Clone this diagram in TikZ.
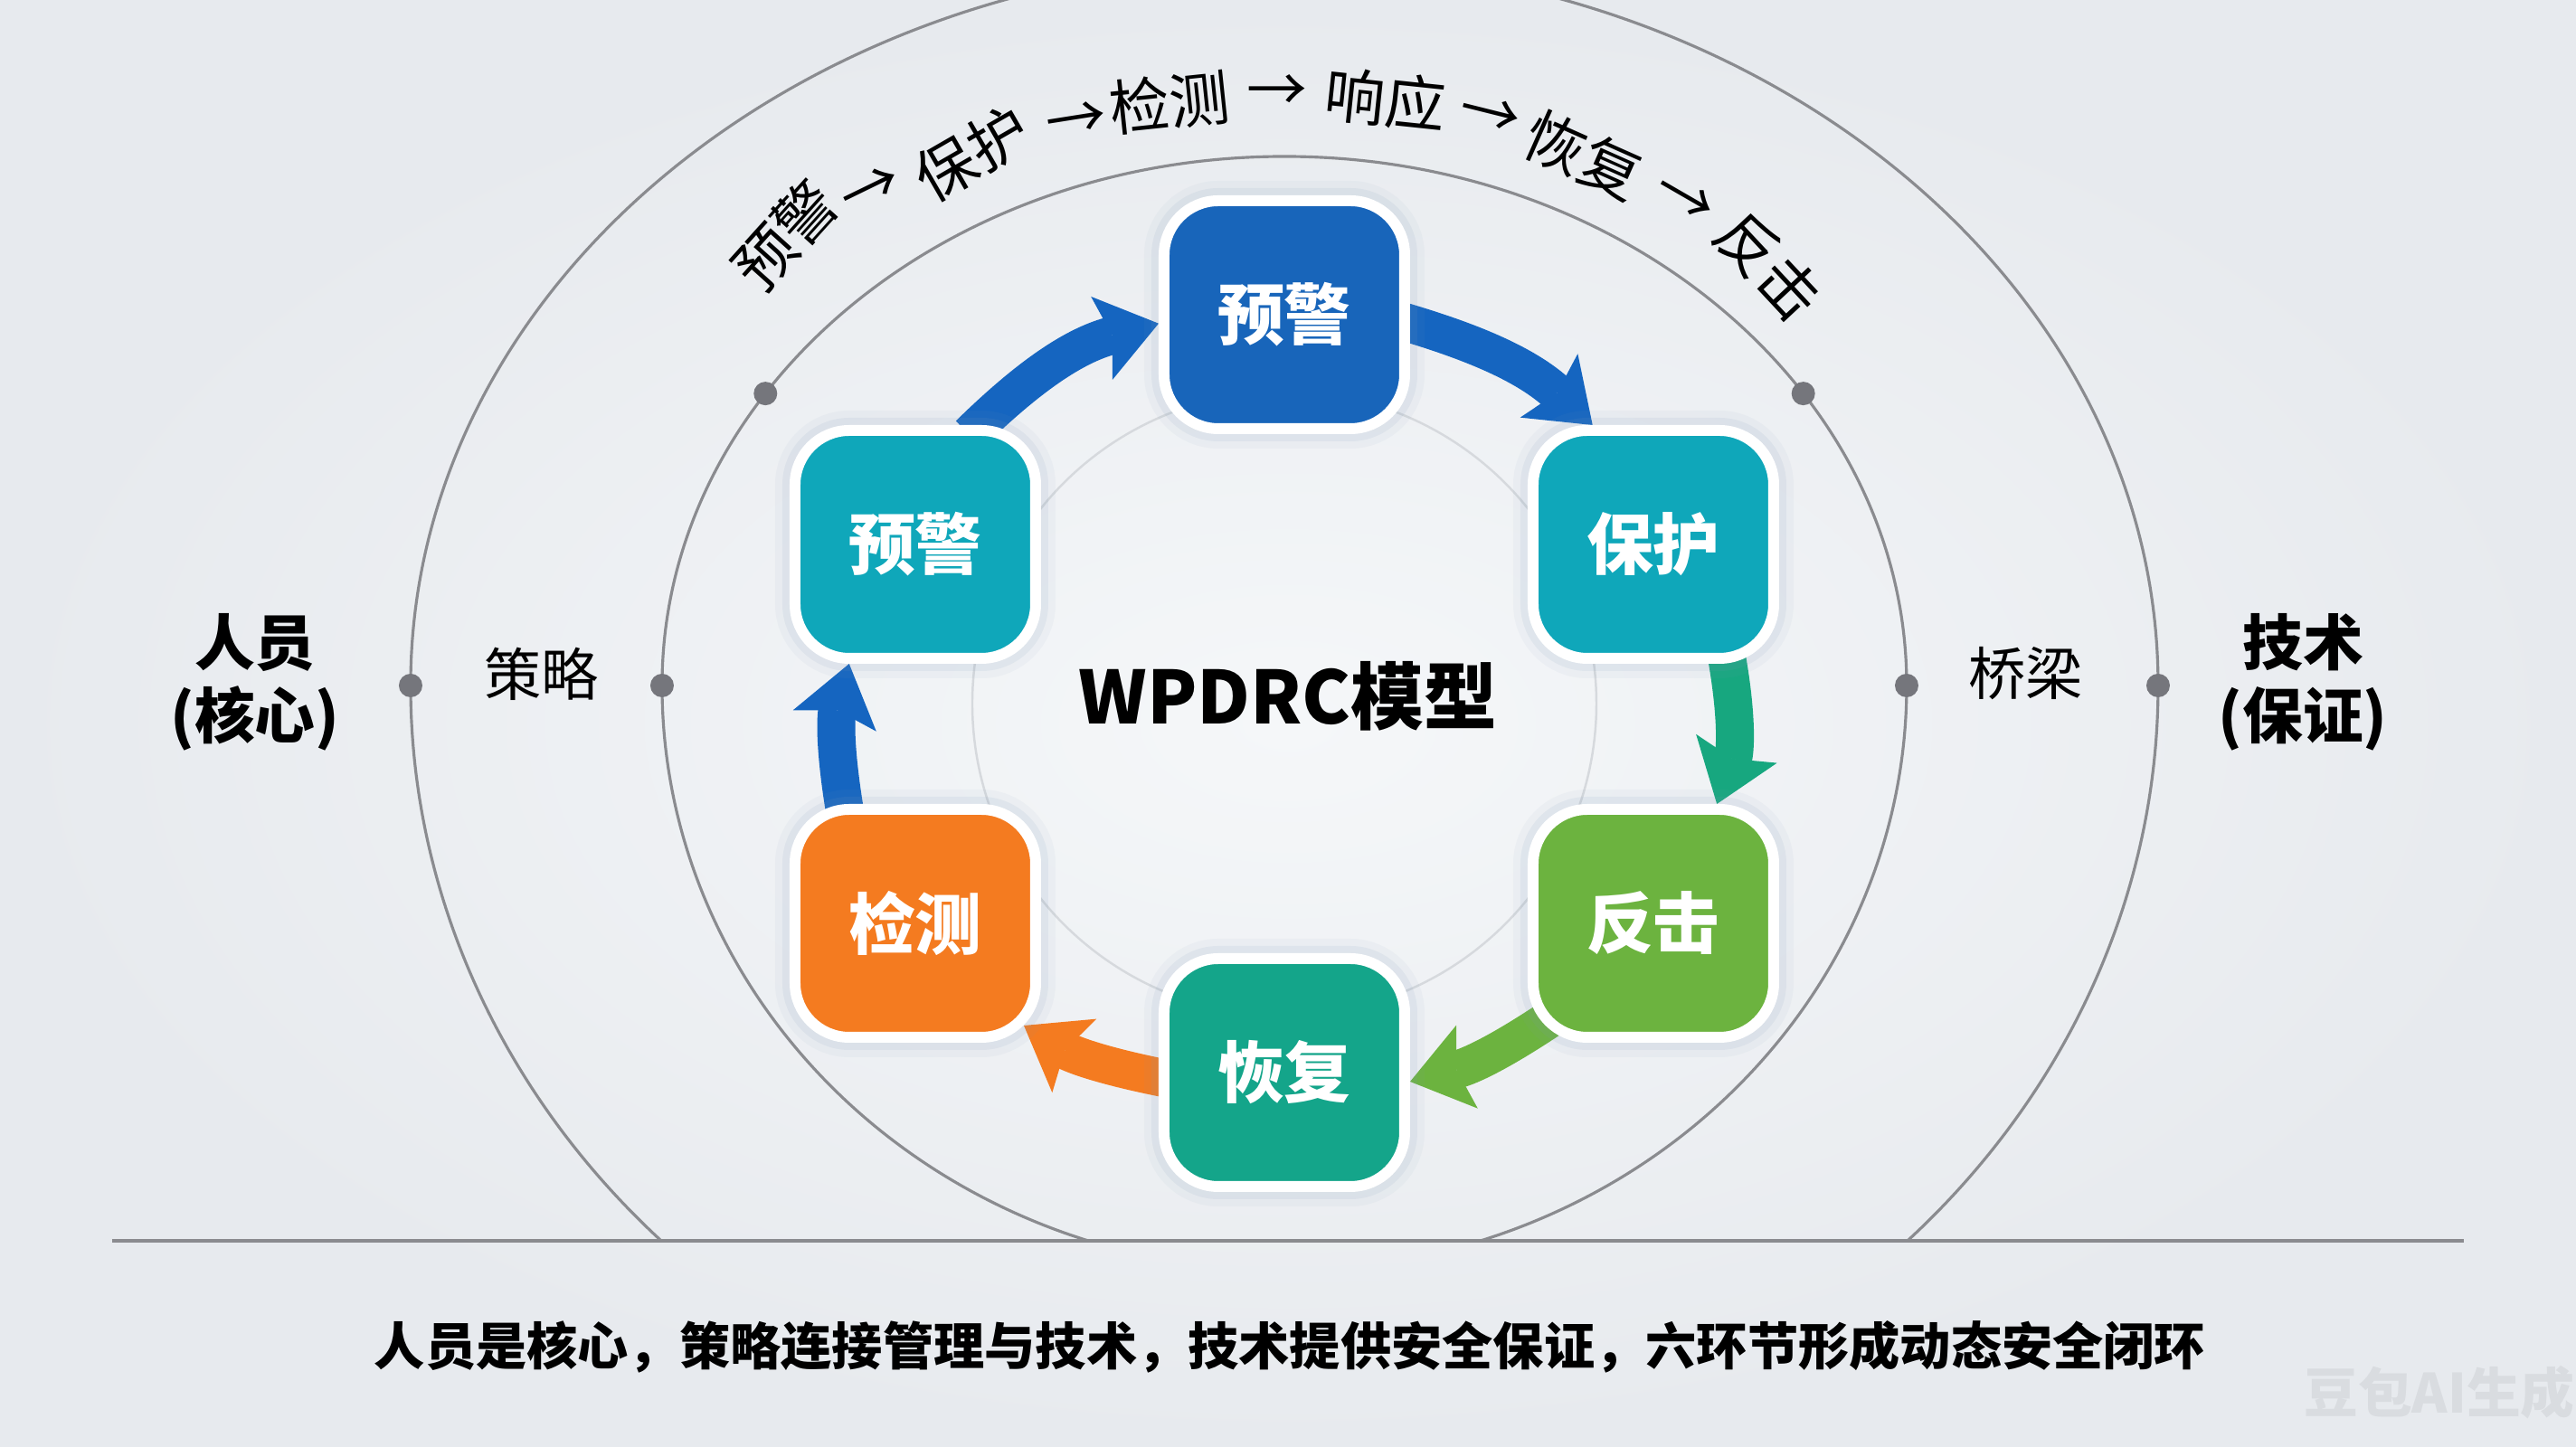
\documentclass[tikz,border=0pt]{standalone}
\usepackage{fontspec}
\setmainfont{Noto Sans CJK SC}
\usetikzlibrary{arrows.meta,backgrounds}
\definecolor{bgin}{HTML}{F5F7F9}
\definecolor{bgout}{HTML}{E7EAEE}
\definecolor{ringgray}{HTML}{8A8B8F}
\definecolor{dotgray}{HTML}{75767C}
\definecolor{faintgray}{HTML}{D6D9DD}
\definecolor{markgray}{HTML}{D9DCE0}
\definecolor{halo}{HTML}{7E9AB8}
\definecolor{cBlue}{HTML}{1865BA}
\definecolor{cArrow}{HTML}{1565C0}
\definecolor{cTeal}{HTML}{0FA7BA}
\definecolor{cOrange}{HTML}{F47B20}
\definecolor{cLime}{HTML}{6CB33F}
\definecolor{cJade}{HTML}{14A58A}
\definecolor{cSea}{HTML}{17A77F}
\begin{document}
\begin{tikzpicture}[line cap=round,line join=round,x=1.0cm,y=1.0cm,
	stage/.style={draw=white,line width=1.2mm,rounded corners=6mm,minimum width=2.66cm,minimum height=2.52cm,text=white,font=\fontsize{21}{25}\selectfont\bfseries,
		preaction={draw=halo,line width=4.4mm,opacity=0.06},preaction={draw=halo,line width=2.8mm,opacity=0.10}},
	flow/.style={line width=4.2mm,line cap=butt,shorten <=-1.5mm,-{Stealth[length=6.5mm,width=9.5mm,inset=1.2mm,line width=0pt]}},
	ring/.style={line width=0.9pt,color=ringgray},
	knot/.style={circle,fill=dotgray,inner sep=0pt,minimum size=2.6mm},
	phase/.style={inner sep=0.5pt,font=\fontsize{19}{23}\selectfont},
	side/.style={font=\fontsize{18}{22}\selectfont},
	pillar/.style={align=center,font=\fontsize{19}{23}\selectfont\bfseries}]
	\useasboundingbox (-14.20,-8.42) rectangle (14.28,7.58);
	\node[stage,fill=cBlue] (warnA) at (0,4.10) {预警};
	\node[stage,fill=cTeal] (warnB) at (-4.08,1.56) {预警};
	\node[stage,fill=cTeal] (protect) at (4.08,1.56) {保护};
	\node[stage,fill=cLime] (strike) at (4.08,-2.63) {反击};
	\node[stage,fill=cJade] (recover) at (0,-4.28) {恢复};
	\node[stage,fill=cOrange] (detect) at (-4.08,-2.63) {检测};
	\node[font=\fontsize{23}{27}\selectfont\bfseries] (model) at (0.04,-0.12) {WPDRC模型};
	\node[knot] (kL1) at (-9.66,0) {};
	\node[knot] (kL2) at (-6.88,0) {};
	\node[knot] (kR2) at (6.88,0) {};
	\node[knot] (kR1) at (9.66,0) {};
	\node[knot] (kUL) at (146.5:6.88 and 5.85) {};
	\node[knot] (kUR) at (33.5:6.88 and 5.85) {};
	\node[pillar] (people) at (-11.38,0.04) {人员\\(核心)};
	\node[pillar] (tech) at (11.26,0.04) {技术\\(保证)};
	\node[side] (policy) at (-8.21,0.13) {策略};
	\node[side] (bridge) at (8.20,0.13) {桥梁};
	\node[phase,rotate=48] (p1) at (-5.52,4.98) {预警};
	\node[phase,rotate=26] (a1) at (-4.56,5.47) {→};
	\node[phase,rotate=30] (p2) at (-3.45,5.88) {保护};
	\node[phase,rotate=9] (a2) at (-2.30,6.23) {→};
	\node[phase,rotate=6] (p3) at (-1.27,6.45) {检测};
	\node[phase,rotate=0] (a3) at (-0.08,6.55) {→};
	\node[phase,rotate=-6] (p4) at (1.12,6.48) {响应};
	\node[phase,rotate=-14] (a4) at (2.27,6.29) {→};
	\node[phase,rotate=-24] (p5) at (3.31,5.86) {恢复};
	\node[phase,rotate=-30] (a5) at (4.42,5.37) {→};
	\node[phase,rotate=-47] (p6) at (5.36,4.64) {反击};
	\node[font=\fontsize{16}{20}\selectfont\bfseries] (summary) at (0.06,-7.31) {人员是核心，策略连接管理与技术，技术提供安全保证，六环节形成动态安全闭环};
	\node[font=\fontsize{17}{20}\selectfont\bfseries,text=markgray] (mark) at (12.77,-7.82) {豆包AI生成};
	\begin{scope}[on background layer]
		\shade[inner color=bgin,outer color=bgout] (-14.20,-8.42) rectangle (14.28,7.58);
		\draw[ring] (224.5:9.66 and 8.76) arc[start angle=224.5,end angle=180,x radius=9.66,y radius=8.76] arc[start angle=180,end angle=0,x radius=9.66,y radius=8.0] arc[start angle=0,end angle=-44.5,x radius=9.66,y radius=8.76];
		\draw[ring] (251.6:6.88 and 6.47) arc[start angle=251.6,end angle=180,x radius=6.88,y radius=6.47] arc[start angle=180,end angle=0,x radius=6.88,y radius=5.85] arc[start angle=0,end angle=-71.6,x radius=6.88,y radius=6.47];
		\draw[line width=0.7pt,color=faintgray] (0,-0.20) circle (3.45);
		\draw[ring] (-12.96,-6.14) -- (13.04,-6.14);
		\draw[flow,cArrow] (warnB.62) to[bend left=15] (warnA.184);
		\draw[flow,cArrow] (warnA.-4) to[bend left=13] (protect.117);
		\draw[flow,cSea] (protect.-58) to[bend left=15] (strike.62);
		\draw[flow,cLime] ([xshift=3mm,yshift=3mm]strike.south west) to[bend left=10] ([yshift=-1mm]recover.east);
		\draw[flow,cOrange] ([yshift=-0.5mm]recover.west) to[bend left=10] ([xshift=-1.9mm,yshift=1.9mm]detect.south east);
		\draw[flow,cArrow] (detect.121) to[bend left=12] (warnB.241);
	\end{scope}
\end{tikzpicture}
\end{document}
